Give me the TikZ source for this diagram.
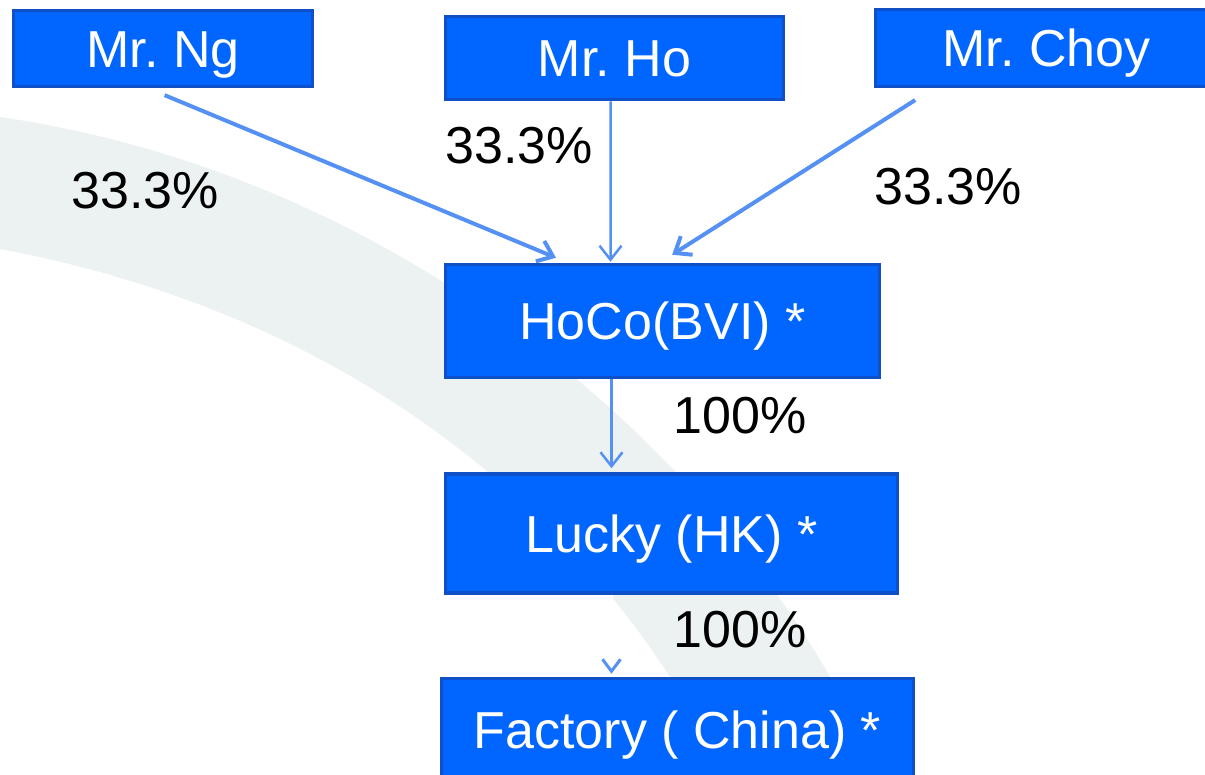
\documentclass[tikz,border=0pt]{standalone}
\usepackage{fontspec}
\setmainfont{Liberation Sans}
\usetikzlibrary{positioning,arrows.meta}
\definecolor{boxfill}{RGB}{0,102,255}
\definecolor{boxline}{RGB}{15,80,200}
\definecolor{linkblue}{RGB}{85,145,245}
\definecolor{bandgrey}{RGB}{236,241,241}
\frenchspacing

\begin{document}
\begin{tikzpicture}[x=1bp,y=-1bp,
  company/.style={draw=boxline,line width=3.5bp,fill=boxfill,text=white,
    inner sep=0pt,text height=37.5bp,text depth=0pt,
    font=\fontsize{52.2}{62}\selectfont},
  share/.style={inner sep=0pt,text height=37.5bp,text depth=0pt,
    font=\fontsize{52.2}{62}\selectfont},
  link/.style={draw=linkblue,line width=4bp,
    -{Straight Barb[length=14bp,width=22bp]}}]
  \useasboundingbox (0,0) rectangle (1205,775);
  % Grey band sweeping down behind the chart.
  \fill[bandgrey] (0,117) .. controls (400,175) and (740,455) .. (880,775)
    -- (725,775) .. controls (615,545) and (380,320) .. (0,249) -- cycle;
  % The three owners along the top.
  \node[company,minimum width=299bp,minimum height=76bp] (ng) at (163,48.5) {Mr. Ng};
  \node[company,minimum width=338bp,minimum height=83bp] (ho) at (614.5,58) {Mr. Ho};
  \node[company,minimum width=342bp,minimum height=77bp] (choy) at (1046.5,48) {Mr. Choy};
  % The holding chain, each one below the last.
  \node[company,minimum width=434bp,minimum height=113bp] (hoco) at (662.5,321) {HoCo(BVI) *};
  \node[company,minimum width=452bp,minimum height=119bp] (lucky)
    [below right=93bp and 0bp of hoco.south west] {Lucky (HK) *};
  \node[company,minimum width=472bp,minimum height=102bp] (factory)
    [below right=82bp and -4bp of lucky.south west] {Factory ( China) *};
  % Ownership links.
  \draw[link,shorten <=18bp,shorten >=13bp] ([xshift=-15bp]ng.south) -- ([xshift=-94.5bp]hoco.north);
  \draw[link,line width=2.5bp,shorten >=1bp] ([xshift=-4bp]ho.south) -- ([xshift=-52bp]hoco.north);
  \draw[link,shorten <=22bp,shorten >=15bp] ([xshift=60bp]choy.south west) -- ([xshift=-3bp]hoco.north);
  \draw[link,line width=2.5bp,shorten >=4bp] ([xshift=-51bp]hoco.south) -- ([xshift=-60bp]lucky.north);
  \draw[link,draw=white,line width=3bp,shorten >=3bp,
    -{Straight Barb[color=linkblue,length=12bp,width=18bp]}]
    ([xshift=-60bp]lucky.south) -- ([xshift=-66bp]factory.north);
  % Shares held.
  \node[share] (ngshare) at (145,190) {33.3\%};
  \node[share] (hoshare) at (519,145) {33.3\%};
  \node[share] (choyshare) at (948,186) {33.3\%};
  \node[share] (hocoshare) at (740,415) {100\%};
  \node[share] (luckyshare) at (740,629) {100\%};
\end{tikzpicture}
\end{document}
